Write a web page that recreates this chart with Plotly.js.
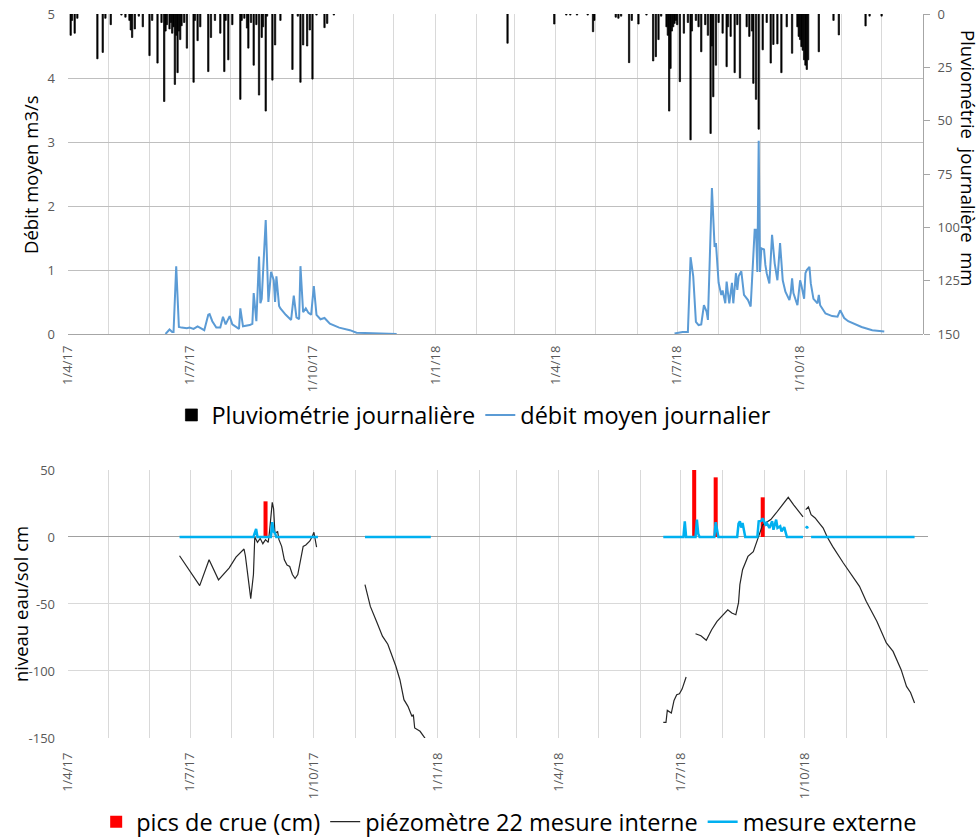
<!DOCTYPE html>
<html><head><meta charset="utf-8">
<script src="https://cdn.plot.ly/plotly-3.0.1.min.js"></script>
<style>html,body{margin:0;padding:0;background:#fff}#chart{width:980px;height:837px}</style>
</head><body><div id="chart"></div>
<script>
// ---------- Data ----------
const tickDates  = ['2017-04-01','2017-07-01','2017-10-01','2018-01-01','2018-04-01','2018-07-01','2018-10-01'];
const tickLabels = ['1/4/17','1/7/17','1/10/17','1/1/18','1/4/18','1/7/18','1/10/18'];

const rainDates = [
 '2017-04-03','2017-04-04','2017-04-06','2017-04-08','2017-04-23','2017-04-27','2017-04-29',
 '2017-05-03','2017-05-11','2017-05-14','2017-05-17','2017-05-18','2017-05-19','2017-05-21','2017-05-24','2017-05-27',
 '2017-06-01','2017-06-03','2017-06-07','2017-06-10','2017-06-12','2017-06-13','2017-06-14','2017-06-16','2017-06-17',
 '2017-06-18','2017-06-19','2017-06-20','2017-06-21','2017-06-22','2017-06-23','2017-06-24','2017-06-25','2017-06-27','2017-06-29',
 '2017-07-04','2017-07-05','2017-07-07','2017-07-09','2017-07-15','2017-07-17','2017-07-20','2017-07-24','2017-07-27','2017-07-28','2017-07-30',
 '2017-08-02','2017-08-08','2017-08-09','2017-08-11','2017-08-13','2017-08-14','2017-08-16','2017-08-18','2017-08-20','2017-08-22','2017-08-24','2017-08-25','2017-08-27','2017-08-28',
 '2017-09-01','2017-09-03','2017-09-07','2017-09-16','2017-09-20','2017-09-22','2017-09-24','2017-09-27','2017-09-29',
 '2017-10-01','2017-10-04','2017-10-10','2017-10-12','2017-10-17',
 '2018-02-24','2018-03-31',
 '2018-04-09','2018-04-12','2018-04-17','2018-04-25','2018-04-29','2018-04-30',
 '2018-05-16','2018-05-18','2018-05-20','2018-05-26','2018-05-28',
 '2018-06-02','2018-06-08','2018-06-13','2018-06-15','2018-06-17','2018-06-19','2018-06-23','2018-06-24','2018-06-25','2018-06-26','2018-06-27','2018-06-28','2018-06-29','2018-06-30',
 '2018-07-01','2018-07-03','2018-07-06','2018-07-09','2018-07-11','2018-07-12','2018-07-15','2018-07-17','2018-07-19','2018-07-22','2018-07-24','2018-07-26','2018-07-27','2018-07-28','2018-07-30',
 '2018-08-01','2018-08-04','2018-08-07','2018-08-08','2018-08-10','2018-08-13','2018-08-15','2018-08-17','2018-08-22','2018-08-24','2018-08-26','2018-08-27','2018-08-29','2018-08-31',
 '2018-09-03','2018-09-06','2018-09-09','2018-09-11','2018-09-14','2018-09-17','2018-09-21','2018-09-25','2018-09-29','2018-09-30',
 '2018-10-01','2018-10-02','2018-10-03','2018-10-04','2018-10-05','2018-10-06','2018-10-07','2018-10-15','2018-10-26','2018-10-30',
 '2018-11-19','2018-11-22','2018-12-01'
];
const rainMm = [
 10,3,9,2,21,18,2,
 5,0.5,1.5,3,7.5,11,7,1,6,
 19.5,3,23,4,41,8,5,7,4,
 9,6,33,10,27.5,8,12,5.5,4,16,
 32,3,12.5,6,27,11,3,9,27,3,21.5,
 5,40,3,2,6.6,16,4,24,5,38,11,6,45.5,1,
 31,14.5,3,26,1,32,14.5,15,7.5,
 30.5,0.5,6.4,4.4,0.5,
 13.7,4.7,
 0.5,0.5,0.5,0.5,8.3,3,
 1.5,2,1,22.8,3,
 4.7,0.5,22,20,12,1,6,10,45.5,25.5,8,6,4.4,3,
 5,31.7,9,4,59,8,3,6,17.7,5,10,56,15,38.8,24,
 4,9,24.7,6,10.5,27.5,5,30,6,10.5,8,32.5,40,54,
 16.8,4,23,14.3,14,27.5,6,18.4,6,10.5,
 12,15.3,17,21.5,24,26,21.5,17.7,3,9.8,
 5.6,1,1
];

const flowDates = [
 '2017-06-13','2017-06-16','2017-06-18','2017-06-19','2017-06-21','2017-06-23','2017-06-25','2017-06-29',
 '2017-07-01','2017-07-04','2017-07-07','2017-07-12','2017-07-15','2017-07-16','2017-07-18','2017-07-21','2017-07-24','2017-07-26','2017-07-28','2017-07-31',
 '2017-08-02','2017-08-07','2017-08-08','2017-08-10','2017-08-15','2017-08-17','2017-08-18','2017-08-20','2017-08-22','2017-08-23','2017-08-24','2017-08-26','2017-08-27','2017-08-29','2017-08-31',
 '2017-09-02','2017-09-03','2017-09-04','2017-09-06','2017-09-07','2017-09-11','2017-09-15','2017-09-17','2017-09-19','2017-09-21','2017-09-22','2017-09-24','2017-09-26','2017-09-28','2017-09-30',
 '2017-10-02','2017-10-04','2017-10-07','2017-10-10','2017-10-14','2017-10-21','2017-10-29',
 '2017-11-03','2017-11-13','2017-12-03',
 '2018-03-01',
 '2018-06-29','2018-06-30','2018-07-02','2018-07-05','2018-07-09','2018-07-11','2018-07-13','2018-07-15','2018-07-17','2018-07-19','2018-07-21','2018-07-23','2018-07-24','2018-07-27','2018-07-29','2018-07-30','2018-07-31',
 '2018-08-01','2018-08-03','2018-08-04','2018-08-06','2018-08-07','2018-08-08','2018-08-09','2018-08-11','2018-08-12','2018-08-14','2018-08-15','2018-08-16','2018-08-18','2018-08-20','2018-08-23','2018-08-25','2018-08-28','2018-08-29','2018-08-30','2018-08-31',
 '2018-09-01','2018-09-02','2018-09-04','2018-09-05','2018-09-06','2018-09-08','2018-09-10','2018-09-12','2018-09-14','2018-09-16','2018-09-18','2018-09-20','2018-09-23','2018-09-24','2018-09-25','2018-09-26','2018-09-29',
 '2018-10-01','2018-10-02','2018-10-04','2018-10-05','2018-10-06','2018-10-08','2018-10-09','2018-10-11','2018-10-14','2018-10-15','2018-10-16','2018-10-20','2018-10-25','2018-10-29','2018-10-31',
 '2018-11-03','2018-11-06','2018-11-11','2018-11-16','2018-11-24','2018-12-03'
];
const flowQ = [
 0,0.07,0.03,0.03,1.06,0.11,0.1,0.09,
 0.1,0.08,0.12,0.06,0.3,0.31,0.2,0.1,0.1,0.27,0.15,0.28,
 0.15,0.08,0.4,0.12,0.14,0.16,0.64,0.2,1.21,0.48,0.55,1.5,1.78,0.5,0.97,
 0.84,0.5,0.9,0.44,0.4,0.3,0.22,0.6,0.26,0.23,1.06,0.34,0.4,0.33,0.3,
 0.75,0.3,0.23,0.25,0.16,0.1,0.06,
 0.02,0.01,0,
 null,
 0.01,0.01,0.02,0.03,0.03,1.2,0.9,0.19,0.14,0.15,0.45,0.35,0.22,2.28,1.36,1.42,1.03,
 0.8,0.61,0.68,0.48,0.82,0.64,0.48,0.8,0.48,0.95,0.69,0.9,0.98,0.61,0.53,0.43,1.63,1.63,0.97,3.02,
 0.97,1.34,1.32,1.08,0.95,0.79,1.55,1.1,0.84,1.42,0.84,0.66,0.53,0.64,0.87,0.64,0.45,
 0.84,0.76,0.55,0.95,1.0,1.05,0.79,0.55,0.48,0.61,0.45,0.32,0.28,0.27,0.37,
 0.25,0.2,0.15,0.11,0.06,0.04
];

const crueDates = ['2017-08-26','2018-07-11','2018-07-27','2018-08-31'];
const crueCm    = [26.6, 55, 44.5, 29.6];

const piezoDates = [
 '2017-06-23','2017-07-08','2017-07-15','2017-07-22','2017-07-30','2017-08-04','2017-08-10','2017-08-11','2017-08-15','2017-08-17','2017-08-18',
 '2017-08-20','2017-08-22','2017-08-24','2017-08-26','2017-08-28','2017-08-29','2017-08-31','2017-09-01','2017-09-02','2017-09-04','2017-09-05',
 '2017-09-07','2017-09-09','2017-09-11','2017-09-13','2017-09-15','2017-09-17','2017-09-19','2017-09-20','2017-09-21','2017-09-23','2017-09-25',
 '2017-09-28','2017-09-30','2017-10-01','2017-10-03',
 '2017-10-20',
 '2017-11-08','2017-11-12','2017-11-17','2017-11-21','2017-11-25','2017-12-01','2017-12-04','2017-12-07','2017-12-10','2017-12-13','2017-12-14','2017-12-15','2017-12-19','2017-12-24',
 '2018-03-01',
 '2018-06-18','2018-06-20','2018-06-21','2018-06-24','2018-06-26','2018-06-28','2018-06-30','2018-07-02','2018-07-05',
 '2018-07-08',
 '2018-07-12','2018-07-16','2018-07-20','2018-07-24','2018-07-28','2018-08-02','2018-08-05','2018-08-08','2018-08-11','2018-08-13','2018-08-14','2018-08-16','2018-08-20','2018-08-24','2018-08-28',
 '2018-08-31','2018-09-04','2018-09-06','2018-09-10','2018-09-15','2018-09-19','2018-09-23','2018-09-27','2018-09-30',
 '2018-10-01',
 '2018-10-02','2018-10-04','2018-10-06','2018-10-09','2018-10-11','2018-10-15','2018-10-18','2018-10-22','2018-10-30',
 '2018-11-06','2018-11-11','2018-11-16','2018-11-24','2018-12-01','2018-12-06','2018-12-12','2018-12-16','2018-12-19','2018-12-22'
];
const piezoCm = [
 -14,-36.3,-17,-32,-23,-15,-9,-14,-46,-28,0,
 -4,-1,-5,-2,-4,4.5,25.8,21,3,4,-2,
 -7,-17,-21,-22,-28,-31,-28,-22,-19,-7,-6,
 -3,1,3.5,-7.6,
 null,
 -35.6,-51.8,-64,-74,-80,-96.5,-106.5,-121.4,-126.4,-133.9,-132.6,-142.5,-145,-152,
 null,
 -138.4,-138.4,-129.4,-131.4,-122,-117.7,-117,-113.5,-104.5,
 null,
 -72.2,-73.7,-77.1,-69.2,-63,-58,-54.3,-56.7,-58,-49,-35.6,-24.4,-14.5,-11,0,
 9.2,11.7,13,17.9,24.6,29.6,24,19,15,
 null,
 20.4,22.4,16.7,14.2,11.7,6.7,0,-7,-19.4,
 -29.4,-36.8,-48,-63,-79.1,-85.4,-99,-111.5,-116,-123.9
];

const extDates = [
 '2017-06-23','2017-08-17','2017-08-19','2017-08-20','2017-08-30','2017-08-31','2017-09-01','2017-09-02','2017-09-03','2017-10-04',
 '2017-10-20',
 '2017-11-08','2017-12-27',
 '2018-03-01',
 '2018-06-18','2018-07-03','2018-07-04','2018-07-05','2018-07-12','2018-07-13','2018-07-14','2018-07-15','2018-07-26','2018-07-27','2018-07-29',
 '2018-08-12','2018-08-13','2018-08-14','2018-08-15','2018-08-16','2018-08-18','2018-08-27','2018-08-28','2018-08-30','2018-08-31',
 '2018-09-02','2018-09-03','2018-09-05','2018-09-07','2018-09-08','2018-09-10','2018-09-11','2018-09-13','2018-09-14','2018-09-16','2018-09-18','2018-09-30',
 '2018-10-01',
 '2018-10-02','2018-10-03','2018-10-04',
 '2018-10-05',
 '2018-10-06','2018-12-22'
];
const extCm = [
 0,0,6,0,0,11,4,3,0,0,
 null,
 0,0,
 null,
 0,0,11.7,0,0,12.9,2.5,0,0,11,0,
 0,10,11.7,7,10.5,0,0,11.7,12,14,
 9.4,10.5,6.7,11.7,5.4,12.9,6.7,8,4.2,7.4,0,0,
 null,
 8,7,7.5,
 null,
 0,0
];

// ---------- Chart ----------
const FONT = 'Open Sans, sans-serif';
const DAY = 86400000;

// monthly gridlines, labels only on the quarterly ticks
const gridVals = [], gridText = [];
(function(){
  let y = 2017, m = 4;
  while (y < 2019 || (y === 2019 && m <= 1)) {
    const s = y + '-' + String(m).padStart(2,'0') + '-01';
    gridVals.push(s);
    const i = tickDates.indexOf(s);
    gridText.push(i >= 0 ? tickLabels[i] : '');
    m++; if (m > 12) { m = 1; y++; }
  }
})();

const levelTicks = [-150,-100,-50,0,50];
const levelTickLabels = ['-150','-100','-50','0','50'];

const tickFont = {family: FONT, size: 13, color: '#595959'};

const traces = [
  {type:'bar', name:'Pluviométrie journalière', x: rainDates, y: rainMm, xaxis:'x', yaxis:'y2',
   width: 1.0*DAY, marker:{color:'#000000', line:{width:0.7, color:'#000000'}}, legend:'legend'},
  {type:'scatter', mode:'lines', name:'débit moyen journalier', x: flowDates, y: flowQ, xaxis:'x', yaxis:'y',
   line:{color:'#5B9BD5', width:2}, connectgaps:false, legend:'legend'},
  {type:'bar', name:'pics de crue (cm)', x: crueDates, y: crueCm, xaxis:'x2', yaxis:'y3',
   width: 3*DAY, marker:{color:'#FF0000', line:{width:0}}, legend:'legend2'},
  {type:'scatter', mode:'lines', name:'piézomètre 22 mesure interne', x: piezoDates, y: piezoCm, xaxis:'x2', yaxis:'y3',
   line:{color:'#262626', width:1.2}, connectgaps:false, legend:'legend2'},
  {type:'scatter', mode:'lines', name:'mesure externe', x: extDates, y: extCm, xaxis:'x2', yaxis:'y3',
   line:{color:'#00B0F0', width:2.5}, connectgaps:false, legend:'legend2'}
];

const xCommon = {
  type:'date', range:['2017-04-01','2019-01-01'], tickmode:'array', tickvals: gridVals, ticktext: gridText,
  tickangle:-90, showgrid:true, gridcolor:'#D9D9D9', gridwidth:1, zeroline:false, showline:false,
  ticks:'', tickfont: tickFont, fixedrange:true, automargin:false
};

const legendFont = {family: FONT, size:23.5, color:'#000000'};

const layout = {
  width:980, height:837,
  margin:{l:68, r:52, t:14, b:99, autoexpand:false},
  paper_bgcolor:'#ffffff', plot_bgcolor:'#ffffff',
  font:{family: FONT, color:'#000000'},
  showlegend:true,
  xaxis: Object.assign({}, xCommon, {domain:[0, 0.9942], anchor:'y', ticklabelstandoff:8}),
  yaxis: {domain:[0.558, 1], anchor:'x', range:[0,5], tick0:0, dtick:1, showgrid:true, gridcolor:'#BFBFBF',
          zeroline:true, zerolinecolor:'#A6A6A6', zerolinewidth:1, showline:false, ticks:'',
          tickfont: tickFont, ticklabelstandoff:12, fixedrange:true, automargin:false},
  yaxis2: {overlaying:'y', side:'right', anchor:'x', range:[150,0], tick0:0, dtick:25, showgrid:false,
           zeroline:false, showline:true, linecolor:'#A6A6A6', linewidth:1, ticks:'outside', ticklen:6,
           tickcolor:'#A6A6A6', tickfont: tickFont, ticklabelstandoff:5, fixedrange:true, automargin:false},
  xaxis2: Object.assign({}, xCommon, {domain:[0,1], anchor:'y3', ticklabelstandoff:11}),
  yaxis3: {domain:[0, 0.3702], anchor:'x2', range:[-150,50], tickmode:'array', tickvals: levelTicks, ticktext: levelTickLabels,
           showgrid:true, gridcolor:'#D9D9D9', zeroline:true, zerolinecolor:'#A0A0A0', zerolinewidth:1,
           showline:false, ticks:'', tickfont: tickFont, ticklabelstandoff:12, fixedrange:true, automargin:false},
  legend: {orientation:'h', xref:'paper', yref:'container', x:0.472, xanchor:'center', y:0.504, yanchor:'middle',
           font: legendFont, bgcolor:'rgba(0,0,0,0)', itemclick:false, itemdoubleclick:false},
  legend2: {orientation:'h', xref:'paper', yref:'container', x:0.513, xanchor:'center', y:0.018, yanchor:'middle',
           font: legendFont, bgcolor:'rgba(0,0,0,0)', itemclick:false, itemdoubleclick:false},
  annotations: [
    {text:'Débit moyen m3/s', xref:'paper', yref:'paper', x:-0.0442, y:0.779, textangle:-90, showarrow:false,
     xanchor:'center', yanchor:'middle', font:{family:FONT, size:18.5, color:'#000000'}},
    {text:'Pluviométrie\u00a0 journalière\u00a0 mm', xref:'paper', yref:'paper', x:1.0477, y:0.801, textangle:90, showarrow:false,
     xanchor:'center', yanchor:'middle', font:{family:FONT, size:18.5, color:'#000000'}},
    {text:'niveau eau/sol cm', xref:'paper', yref:'paper', x:-0.0558, y:0.185, textangle:-90, showarrow:false,
     xanchor:'center', yanchor:'middle', font:{family:FONT, size:18.5, color:'#000000'}}
  ]
};

Plotly.newPlot('chart', traces, layout, {displayModeBar:false, staticPlot:true});
</script></body></html>
